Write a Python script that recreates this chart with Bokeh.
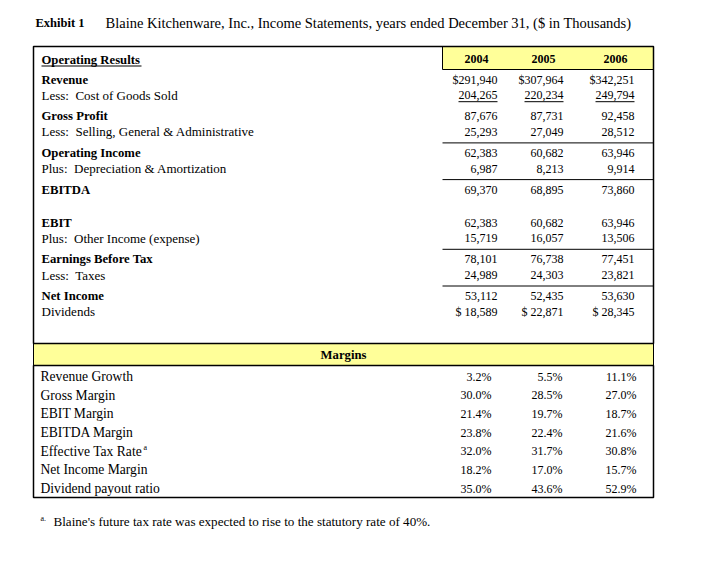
from bokeh.plotting import figure
from bokeh.models import Range1d, ColumnDataSource
from bokeh.core.properties import value
from bokeh.embed import file_html
from bokeh.resources import INLINE

# ---------------- data ----------------
title_bold = "Exhibit 1"
title_text = "Blaine Kitchenware, Inc., Income Statements, years ended December 31, ($ in Thousands)"
section_title = "Operating Results"
years = ["2004", "2005", "2006"]

NB = "\u00a0"
op_labels = [
    "Revenue",
    "Less:" + NB + " Cost of Goods Sold",
    "Gross Profit",
    "Less:" + NB + " Selling, General & Administrative",
    "Operating Income",
    "Plus:" + NB + " Depreciation & Amortization",
    "EBITDA",
    "EBIT",
    "Plus:" + NB + " Other Income (expense)",
    "Earnings Before Tax",
    "Less:" + NB + " Taxes",
    "Net Income",
    "Dividends",
]
op_bold = [True, False, True, False, True, False, True, True, False, True, False, True, False]
val_2004 = [291940, 204265, 87676, 25293, 62383, 6987, 69370, 62383, 15719, 78101, 24989, 53112, 18589]
val_2005 = [307964, 220234, 87731, 27049, 60682, 8213, 68895, 60682, 16057, 76738, 24303, 52435, 22871]
val_2006 = [342251, 249794, 92458, 28512, 63946, 9914, 73860, 63946, 13506, 77451, 23821, 53630, 28345]
# row groups (index lists) as printed in the exhibit
op_groups = [[0, 1], [2, 3], [4, 5], [6], [7, 8], [9, 10], [11, 12]]
ruled_before_groups = [2, 3, 5, 6]   # a thin rule above these groups
dollar_rows = [0]            # "$291,940"
dollar_space_rows = [12]     # "$ 18,589"
underlined_rows = [1]

margins_title = "Margins"
m_labels = ["Revenue Growth", "Gross Margin", "EBIT Margin", "EBITDA Margin",
            "Effective Tax Rate", "Net Income Margin", "Dividend payout ratio"]
m_2004 = [3.2, 30.0, 21.4, 23.8, 32.0, 18.2, 35.0]
m_2005 = [5.5, 28.5, 19.7, 22.4, 31.7, 17.0, 43.6]
m_2006 = [11.1, 27.0, 18.7, 21.6, 30.8, 15.7, 52.9]
footnote_row = 4
footnote_mark = "a"
footnote_text = "Blaine's future tax rate was expected to rise to the statutory rate of 40%."

# ---------------- layout ----------------
FONT = value("Liberation Serif")
BOX_L, BOX_R, BOX_T = 33, 653, 46
HDR_L, HDR_B = 442, 69
LABEL_X = 41
COL_RIGHT = [497, 563, 634]
HDR_CX = [476, 543, 615]
M_RIGHT = [491, 562, 636]
ROW0_Y = 79
ROW_STEP = 15.7
GROUP_STEP = 21
BIG_GAP_GROUP = 4
BIG_GAP = 33
BAND_T, BAND_B = 343, 365
M_ROW0 = 376
M_STEP = 18.67
M_BOTTOM = 497

# compute row y positions
row_y = [0.0] * len(op_labels)
y = ROW0_Y
for gi, g in enumerate(op_groups):
    if gi > 0:
        prev_last = row_y[op_groups[gi - 1][-1]]
        y = prev_last + (BIG_GAP if gi == BIG_GAP_GROUP else GROUP_STEP)
    for k, idx in enumerate(g):
        row_y[idx] = y + k * ROW_STEP

W, H = 689, 557
p = figure(width=W, height=H, x_range=Range1d(0, W), y_range=Range1d(H, 0),
           output_backend="svg", toolbar_location=None, min_border=0,
           x_axis_location=None, y_axis_location=None)
p.grid.visible = False
p.outline_line_color = None
p.background_fill_color = "white"
p.border_fill_color = "white"

YELLOW = "#FFFF99"

# title
p.text(x=[35], y=[22], text=[title_bold], text_font=FONT, text_font_size="12.5px",
       text_font_style="bold", text_baseline="middle", text_color="black")
p.text(x=[105], y=[22], text=[title_text], text_font=FONT, text_font_size="14.5px",
       text_baseline="middle", text_color="black")

# boxes
p.quad(left=[HDR_L], right=[BOX_R], top=[BOX_T], bottom=[HDR_B], fill_color=YELLOW,
       line_color="black", line_width=1)
p.quad(left=[BOX_L], right=[BOX_R], top=[BAND_T], bottom=[BAND_B], fill_color=YELLOW,
       line_color="black", line_width=1)
p.quad(left=[BOX_L], right=[BOX_R], top=[BOX_T], bottom=[BAND_T], fill_color=None,
       line_color="black", line_width=1.5)
p.quad(left=[BOX_L], right=[BOX_R], top=[BAND_B], bottom=[M_BOTTOM], fill_color=None,
       line_color="black", line_width=1.5)

# rules between groups
rule_y = [(row_y[op_groups[g - 1][-1]] + row_y[op_groups[g][0]]) / 2 + 0.5 for g in ruled_before_groups]
p.segment(x0=[HDR_L] * len(rule_y), x1=[BOX_R] * len(rule_y), y0=rule_y, y1=rule_y,
          line_color="black", line_width=1)

# section header
p.text(x=[LABEL_X], y=[59], text=[section_title], text_font=FONT, text_font_size="12.7px",
       text_font_style="bold", text_baseline="middle", text_color="black")
p.segment(x0=[LABEL_X], x1=[LABEL_X + 100], y0=[65.5], y1=[65.5], line_color="black", line_width=1)

# year headers
p.text(x=HDR_CX, y=[58] * 3, text=years, text_font=FONT, text_font_size="12px",
       text_font_style="bold", text_align="center", text_baseline="middle", text_color="black")

# labels
for bold in (True, False):
    idx = [i for i in range(len(op_labels)) if op_bold[i] == bold]
    src = ColumnDataSource(dict(x=[LABEL_X] * len(idx), y=[row_y[i] for i in idx],
                                t=[op_labels[i] for i in idx]))
    p.text(x="x", y="y", text="t", source=src, text_font=FONT,
           text_font_size="12.7px" if bold else "13px",
           text_font_style="bold" if bold else "normal", text_baseline="middle", text_color="black")


def fmt(v, i):
    s = f"{v:,}"
    if i in dollar_rows:
        return "$" + s
    if i in dollar_space_rows:
        return "$ " + s
    return s


def est_width(s, size=12):
    w = 0
    for ch in s:
        if ch in ",. ":
            w += 0.25
        else:
            w += 0.5
    return w * size


for c, vals in enumerate([val_2004, val_2005, val_2006]):
    src = ColumnDataSource(dict(x=[COL_RIGHT[c]] * len(vals), y=row_y,
                                t=[fmt(v, i) for i, v in enumerate(vals)]))
    p.text(x="x", y="y", text="t", source=src, text_font=FONT, text_font_size="12px",
           text_align="right", text_baseline="middle", text_color="black")
    for i in underlined_rows:
        w = est_width(fmt(vals[i], i))
        p.segment(x0=[COL_RIGHT[c] - w], x1=[COL_RIGHT[c]], y0=[row_y[i] + 6.5], y1=[row_y[i] + 6.5],
                  line_color="black", line_width=1)

# margins
p.text(x=[(BOX_L + BOX_R) / 2], y=[(BAND_T + BAND_B) / 2], text=[margins_title], text_font=FONT,
       text_font_size="12.7px", text_font_style="bold", text_align="center", text_baseline="middle",
       text_color="black")
m_y = [M_ROW0 + i * M_STEP for i in range(len(m_labels))]
p.text(x=[LABEL_X - 1] * len(m_labels), y=m_y, text=m_labels, text_font=FONT, text_font_size="13.6px",
       text_baseline="middle", text_color="black")
p.text(x=[LABEL_X + 102], y=[m_y[footnote_row] - 4], text=[footnote_mark], text_font=FONT,
       text_font_size="8px", text_baseline="middle", text_color="black")
for c, vals in enumerate([m_2004, m_2005, m_2006]):
    p.text(x=[M_RIGHT[c]] * len(vals), y=m_y, text=[f"{v:.1f}%" for v in vals], text_font=FONT,
           text_font_size="12px", text_align="right", text_baseline="middle", text_color="black")

# footnote
p.text(x=[40], y=[518], text=[footnote_mark + "."], text_font=FONT, text_font_size="8px",
       text_baseline="middle", text_color="black")
p.text(x=[53], y=[521], text=[footnote_text], text_font=FONT, text_font_size="13.1px",
       text_baseline="middle", text_color="black")

open("out.html", "w").write(file_html(p, INLINE))
